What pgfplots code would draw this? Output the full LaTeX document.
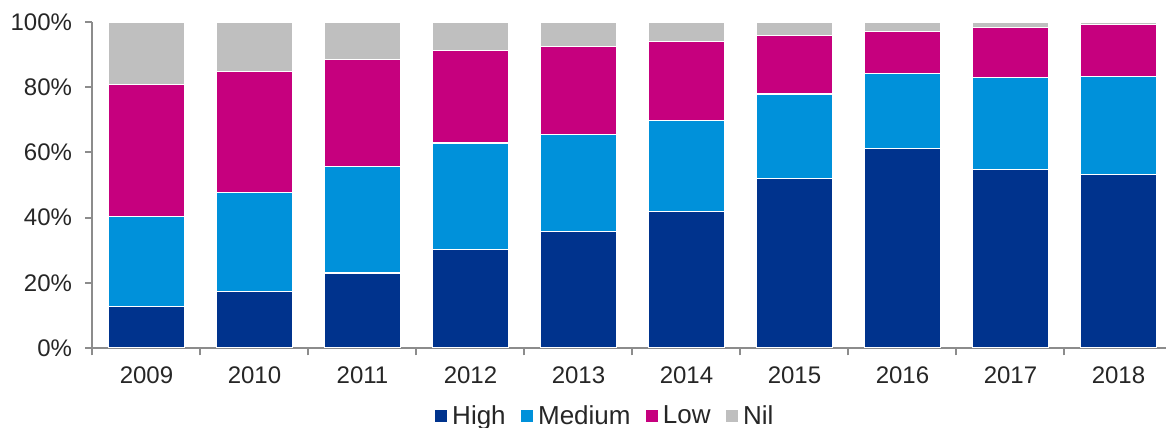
\documentclass[border=0pt]{standalone}
\usepackage{fontspec}
\setmainfont{Liberation Sans}
\usepackage{pgfplots}
\pgfplotsset{compat=1.18}
\usepackage{pgfplotstable}

\definecolor{cHigh}{HTML}{00338D}
\definecolor{cMed}{HTML}{0091DA}
\definecolor{cLow}{HTML}{C6007E}
\definecolor{cNil}{HTML}{BFBFBF}
\definecolor{axgray}{HTML}{8C8C8C}

% year index, share of each rating (%)
\pgfplotstableread{
x  high  medium  low   nil
0  12.7  27.6    40.6  19.1
1  17.3  30.4    37.2  15.1
2  23.0  32.7    32.9  11.4
3  30.3  32.6    28.4   8.7
4  35.7  29.8    27.0   7.5
5  41.8  28.1    24.1   6.0
6  51.9  26.0    18.0   4.1
7  61.1  23.0    13.1   2.8
8  54.8  28.2    15.3   1.7
9  53.1  30.1    16.0   0.8
}\ratings

\begin{document}
\begin{tikzpicture}
\begin{axis}[
  name=a,
  scale only axis,
  width=536.75pt, height=163pt,
  ybar stacked,
  bar width=0.71,
  xmin=-0.5, xmax=9.44,
  ymin=0, ymax=100,
  axis lines*=left,
  axis line style={axgray, line width=1pt},
  every tick/.style={axgray, line width=1pt},
  tick align=outside,
  major tick length=3.7pt,
  % category boundaries carry the tick marks
  xtick={-0.5,0.5,...,8.5},
  xticklabels={},
  % year names sit at the bar centres, without marks
  extra x ticks={0,1,2,3,4,5,6,7,8,9},
  extra x tick labels={2009,2010,2011,2012,2013,2014,2015,2016,2017,2018},
  extra x tick style={major tick length=0pt},
  ytick={0,20,40,60,80,100},
  yticklabels={0\%,20\%,40\%,60\%,80\%,100\%},
  tick label style={font=\fontsize{12}{14}\selectfont, text=black!85},
  xticklabel style={yshift=-6pt},
  yticklabel style={xshift=-3pt},
  legend style={
    draw=none, fill=none,
    at={(0.478,-0.21)}, anchor=center,
    legend columns=4,
    font=\fontsize{13}{15}\selectfont,
    text=black!85,
    /tikz/every even column/.append style={column sep=5pt},
  },
  legend image code/.code={
    \fill[#1] (0pt,-3.3pt) rectangle (6.6pt,3.3pt);
  },
]
\addplot[fill=cHigh, draw=white, line width=0.6pt] table[x=x, y=high] {\ratings};
\addplot[fill=cMed, draw=white, line width=0.6pt] table[x=x, y=medium] {\ratings};
\addplot[fill=cLow, draw=white, line width=0.6pt] table[x=x, y=low] {\ratings};
\addplot[fill=cNil, draw=white, line width=0.6pt] table[x=x, y=nil] {\ratings};
\legend{High, Medium, Low, Nil}
\end{axis}
\pgfresetboundingbox
\path ([xshift=-46.25pt, yshift=-40pt]a.south west) rectangle ([xshift=1pt, yshift=11pt]a.north east);
\end{tikzpicture}
\end{document}
